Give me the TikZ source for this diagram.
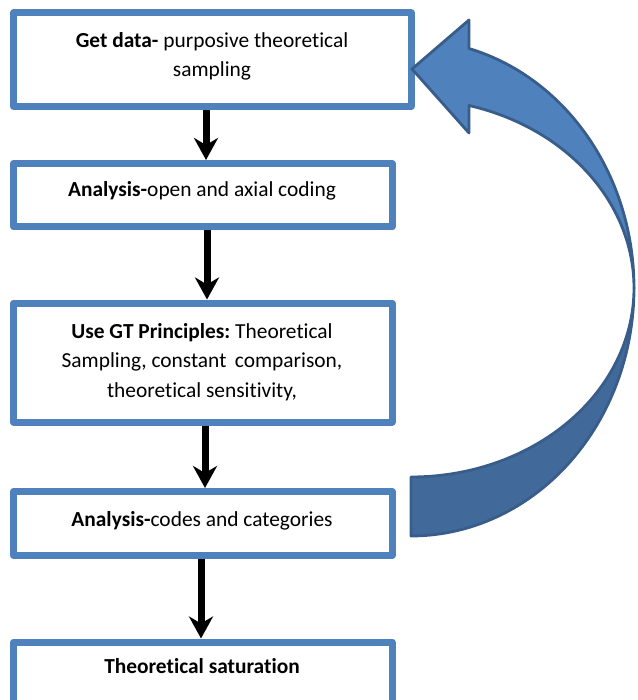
\documentclass[tikz,border=0pt]{standalone}
\usepackage{fontspec}
\setmainfont[RawFeature={-liga;-clig;-dlig}]{Carlito}
\frenchspacing
\usetikzlibrary{arrows.meta}
\definecolor{boxblue}{HTML}{4F81BD}
\definecolor{loopfront}{HTML}{4F81BD}
\definecolor{loopback}{HTML}{41699A}
\definecolor{loopedge}{HTML}{385D8A}
\tikzset{
  stepbox/.style={draw=boxblue, line width=7pt, line join=round, fill=white,
    rectangle, inner sep=0pt},
  steptext/.style={align=center, inner sep=0pt, anchor=base,
    font=\fontsize{21.4}{29.5}\selectfont},
  flowarrow/.style={line width=7pt, black,
    -{Stealth[length=22pt, width=24pt, inset=7pt]}},
  loopface/.style={draw=loopedge, line width=2.8pt, line join=round}
}
\begin{document}
\begin{tikzpicture}[x=1pt, y=-1pt]
\useasboundingbox (0,0) rectangle (637,700);

% process steps
\node[stepbox, minimum width=397.5pt, minimum height=93.5pt] (b1) at (212.25,59.75) {};
\node[stepbox, minimum width=378.5pt, minimum height=63.5pt] (b2) at (202.75,195.25) {};
\node[stepbox, minimum width=378.5pt, minimum height=119pt]  (b3) at (202.75,362.5) {};
\node[stepbox, minimum width=378.5pt, minimum height=64pt]   (b4) at (202.75,523.5) {};
\node[stepbox, minimum width=378.5pt, minimum height=63pt]   (b5) at (202.75,673.5) {};

% step texts (anchored at the baseline of their last line)
\node[steptext] (t1) at (212,77) {\textbf{Get data-} purposive theoretical\\sampling};
\node[steptext] (t2) at (202,197) {\textbf{Analysis-}open and axial coding};
\node[steptext] (t3) at (202,397) {\textbf{Use GT Principles:} Theoretical\\Sampling, constant\hspace{0.4em}comparison,\\theoretical sensitivity,};
\node[steptext] (t4) at (202,526) {\textbf{Analysis-}codes and categories};
\node[steptext] (t5) at (202,673) {\textbf{Theoretical saturation}};

% downward flow
\draw[flowarrow] ([xshift=3.25pt]b2.north |- b1.south) -- ([xshift=3.25pt]b2.north);
\draw[flowarrow] ([xshift=4.25pt]b2.south) -- ([xshift=4.25pt]b3.north);
\draw[flowarrow] ([xshift=2.25pt]b3.south) -- ([xshift=2.25pt]b4.north);
\draw[flowarrow] ([xshift=-1.75pt]b4.south) -- ([xshift=-1.75pt]b5.north);

% curved feedback arrow: back face of the ribbon (lower half)
\filldraw[loopface, fill=loopback]
  plot[domain=0:-90, samples=60] ({411+223*cos(\x)}, {288-248*sin(\x)})
  -- plot[domain=-90:0, samples=60] ({411+223*cos(\x)}, {288-189*sin(\x)})
  -- cycle;
% front face of the ribbon with the arrow head
\coordinate (tip) at (412,69);
\filldraw[loopface, fill=loopfront]
  (tip) -- (469,20)
  -- plot[domain=74.92:0, samples=60] ({411+223*cos(\x)}, {288-248*sin(\x)})
  -- plot[domain=0:74.92, samples=60] ({411+223*cos(\x)}, {288-189*sin(\x)})
  -- (469,133) -- cycle;
\end{tikzpicture}
\end{document}
